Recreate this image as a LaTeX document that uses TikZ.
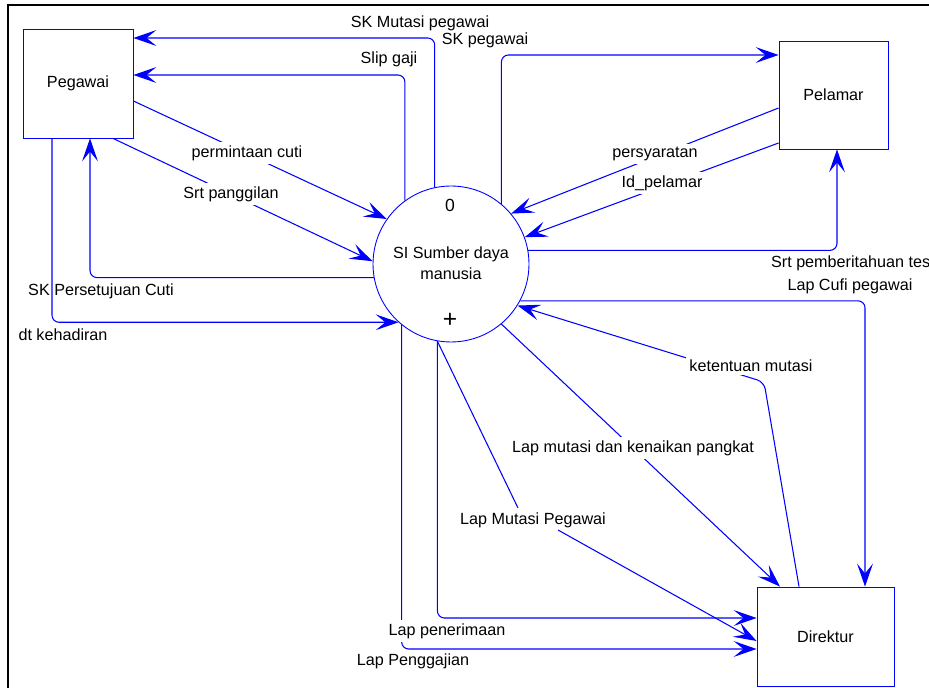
\documentclass[tikz,border=0pt]{standalone}
\usepackage{fontspec}
\setmainfont{Liberation Sans}
\usetikzlibrary{positioning,arrows.meta}
\tikzset{
    entity/.style={rectangle, draw=blue, line width=0.5pt, minimum width=2.2cm, minimum height=2.18cm, font=\fontsize{9.2}{11}\selectfont},
    process/.style={circle, draw=blue, line width=0.5pt, minimum size=3.12cm, inner sep=0pt},
    flow/.style={draw=blue, line width=0.6pt, rounded corners=4pt, -{Stealth[length=13pt, width=9pt, inset=5.5pt]}},
    plain flow/.style={draw=blue, line width=0.6pt, rounded corners=4pt},
    flow label/.style={font=\fontsize{9.2}{11}\selectfont, inner sep=1pt},
    cut label/.style={flow label, fill=white, inner sep=2pt}
}

\begin{document}
\begin{tikzpicture}[x=0.02cm, y=-0.02cm]
    \useasboundingbox (0,0) rectangle (929,688);
    % bingkai
    \draw[line width=1.2pt] (8,720) -- (8,5) -- (960,5);

    % entitas dan proses
    \node[entity] (pegawai) at (78,83.5) {Pegawai};
    \node[entity, minimum width=2.18cm, minimum height=2.16cm] (pelamar) at (833.5,95) {Pelamar};
    \node[entity, minimum width=2.74cm, minimum height=1.98cm] (direktur) at (825.5,636.5) {Direktur};
    \node[process] (sdm) at (451,264) {};
    \node[flow label, font=\fontsize{10}{11}\selectfont] (nomor) at (450,205) {0};
    \node[flow label, align=center, font=\fontsize{9.2}{12}\selectfont] (nama) at (451,263) {SI Sumber daya\\manusia};
    \node[inner sep=0pt, font=\fontsize{14}{14}\selectfont] (tambah) at (450,320) {+};

    % aliran ke Pegawai
    \draw[flow] (sdm.102) |- (pegawai.east |- 0,38);
    \node[flow label] (lskmutasi) at (420,23) {SK Mutasi pegawai};
    \draw[flow] (sdm.126) |- (pegawai.east |- 0,75);
    \node[flow label] (lslip) at (389,59) {Slip gaji};
    \draw[flow] (sdm.190) -| (90,0 |- pegawai.south);
    \node[flow label] (lskcuti) at (101,291) {SK Persetujuan Cuti};

    % aliran dari Pegawai
    \draw[flow] (pegawai.east |- 0,101) -- (sdm.145);
    \node[cut label] (lcuti) at (247,153) {permintaan cuti};
    \draw[flow] (113,0 |- pegawai.south) -- (sdm.178);
    \node[cut label] (lpanggil) at (231,194) {Srt panggilan};
    \draw[flow] (52,0 |- pegawai.south) |- (sdm.228);
    \node[flow label] (lhadir) at (63,335) {dt kehadiran};

    % aliran Pelamar
    \draw[flow] (sdm.50) |- (pelamar.west |- 0,55);
    \node[flow label] (lskpeg) at (485,40) {SK pegawai};
    \draw[flow] (pelamar.west |- 0,108) -- (sdm.40);
    \node[cut label] (lsyarat) at (655,154) {persyaratan};
    \draw[flow] (pelamar.west |- 0,143) -- (sdm.20);
    \node[cut label] (lidpel) at (662,183) {Id\_pelamar};
    \draw[flow] (sdm.10) -| (837,0 |- pelamar.south);
    \node[flow label, anchor=west] (ltes) at (769,263) {Srt pemberitahuan tes};

    % aliran Direktur
    \draw[flow] (sdm.332) -| (865,0 |- direktur.north);
    \node[flow label] (lcufi) at (850,286) {Lap Cufi pegawai};
    \draw[flow] (799,0 |- direktur.north) -- (764,382) -- (sdm.328);
    \node[cut label] (lketentuan) at (751,366) {ketentuan mutasi};
    \draw[flow] (sdm.310) -- (780,0 |- direktur.north);
    \node[cut label] (lkenaikan) at (633,448) {Lap mutasi dan kenaikan pangkat};
    \coordinate (tekuk1) at (518,508);
    \coordinate (tekuk2) at (558,530);
    \draw[plain flow] (sdm.260) -- (tekuk1);
    \draw[flow] (tekuk2) -- (direktur.west |- 0,641);
    \node[flow label] (lmutpeg) at (533,520) {Lap Mutasi Pegawai};
    \draw[flow] (sdm.231) |- (direktur.west |- 0,649);
    \draw[flow] (sdm.260) |- (direktur.west |- 0,618);
    \node[cut label] (lterima) at (447,631) {Lap penerimaan};
    \node[flow label] (lgaji) at (413,661) {Lap Penggajian};
\end{tikzpicture}
\end{document}
